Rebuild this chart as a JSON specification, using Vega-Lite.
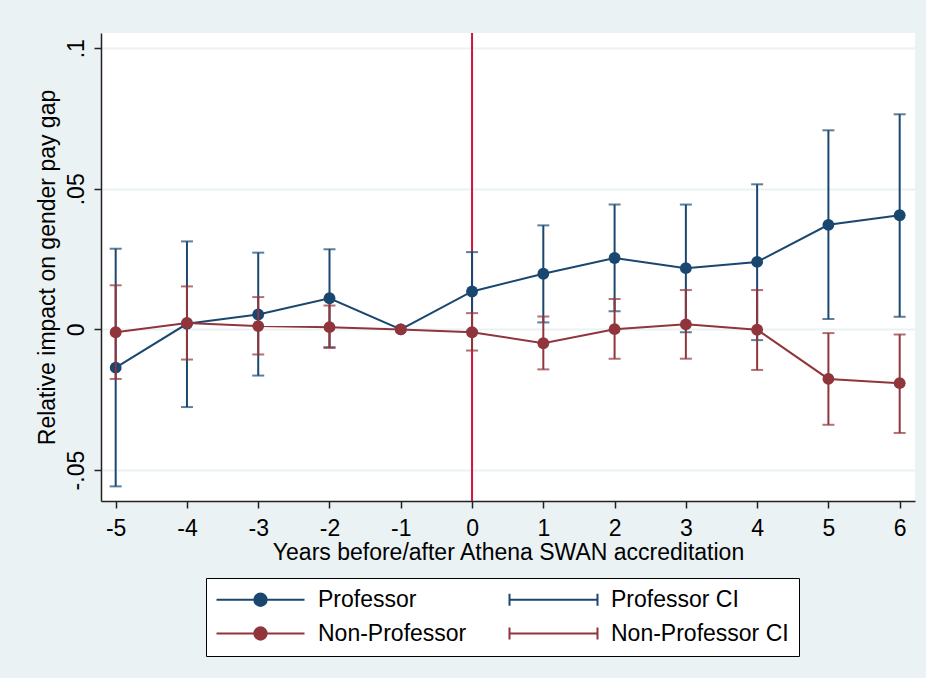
{
  "$schema": "https://vega.github.io/schema/vega-lite/v6.json",
  "width": 814,
  "height": 468,
  "autosize": {"type": "none"},
  "padding": {"left": 101, "top": 33, "right": 11, "bottom": 177},
  "background": "#EAF2F3",
  "config": {
    "font": "Liberation Sans",
    "view": {"fill": "white", "stroke": null},
    "axis": {
      "labelFont": "Liberation Sans",
      "titleFont": "Liberation Sans",
      "labelFontSize": 23,
      "titleFontSize": 23,
      "titleFontWeight": "normal",
      "labelColor": "black",
      "titleColor": "black",
      "domainColor": "#222",
      "domainWidth": 1.5,
      "tickColor": "#222",
      "tickWidth": 1.5,
      "tickSize": 7
    },
    "legend": {
      "labelFont": "Liberation Sans",
      "labelFontSize": 23,
      "labelColor": "black"
    }
  },
  "data": {
    "values": [
      {"t": -5, "series": "Professor", "ci": "Professor CI", "b": -0.0136, "lo": -0.0558, "hi": 0.0287},
      {"t": -4, "series": "Professor", "ci": "Professor CI", "b": 0.002, "lo": -0.0276, "hi": 0.0313},
      {"t": -3, "series": "Professor", "ci": "Professor CI", "b": 0.0053, "lo": -0.0164, "hi": 0.0273},
      {"t": -2, "series": "Professor", "ci": "Professor CI", "b": 0.0111, "lo": -0.0063, "hi": 0.0285},
      {"t": -1, "series": "Professor", "ci": "Professor CI", "b": 0.0, "lo": null, "hi": null},
      {"t": 0, "series": "Professor", "ci": "Professor CI", "b": 0.0135, "lo": -0.0005, "hi": 0.0275},
      {"t": 1, "series": "Professor", "ci": "Professor CI", "b": 0.0198, "lo": 0.0025, "hi": 0.037},
      {"t": 2, "series": "Professor", "ci": "Professor CI", "b": 0.0254, "lo": 0.0065, "hi": 0.0444},
      {"t": 3, "series": "Professor", "ci": "Professor CI", "b": 0.0218, "lo": -0.001, "hi": 0.0444},
      {"t": 4, "series": "Professor", "ci": "Professor CI", "b": 0.024, "lo": -0.0038, "hi": 0.0516},
      {"t": 5, "series": "Professor", "ci": "Professor CI", "b": 0.0372, "lo": 0.0037, "hi": 0.0708},
      {"t": 6, "series": "Professor", "ci": "Professor CI", "b": 0.0406, "lo": 0.0045, "hi": 0.0765},
      {"t": -5, "series": "Non-Professor", "ci": "Non-Professor CI", "b": -0.001, "lo": -0.0176, "hi": 0.0157},
      {"t": -4, "series": "Non-Professor", "ci": "Non-Professor CI", "b": 0.0023, "lo": -0.0107, "hi": 0.0153},
      {"t": -3, "series": "Non-Professor", "ci": "Non-Professor CI", "b": 0.0012, "lo": -0.0089, "hi": 0.0115},
      {"t": -2, "series": "Non-Professor", "ci": "Non-Professor CI", "b": 0.0008, "lo": -0.0066, "hi": 0.0085},
      {"t": -1, "series": "Non-Professor", "ci": "Non-Professor CI", "b": 0.0, "lo": null, "hi": null},
      {"t": 0, "series": "Non-Professor", "ci": "Non-Professor CI", "b": -0.001, "lo": -0.0075, "hi": 0.0058},
      {"t": 1, "series": "Non-Professor", "ci": "Non-Professor CI", "b": -0.0049, "lo": -0.0142, "hi": 0.0046},
      {"t": 2, "series": "Non-Professor", "ci": "Non-Professor CI", "b": 0.0001, "lo": -0.0104, "hi": 0.0108},
      {"t": 3, "series": "Non-Professor", "ci": "Non-Professor CI", "b": 0.0018, "lo": -0.0104, "hi": 0.014},
      {"t": 4, "series": "Non-Professor", "ci": "Non-Professor CI", "b": -0.0001, "lo": -0.0144, "hi": 0.014},
      {"t": 5, "series": "Non-Professor", "ci": "Non-Professor CI", "b": -0.0176, "lo": -0.0339, "hi": -0.0013},
      {"t": 6, "series": "Non-Professor", "ci": "Non-Professor CI", "b": -0.0191, "lo": -0.0368, "hi": -0.0018}
    ]
  },
  "encoding": {
    "x": {
      "field": "t",
      "type": "quantitative",
      "scale": {"domain": [-5.206, 6.215], "nice": false, "zero": false},
      "axis": {
        "title": "Years before/after Athena SWAN accreditation",
        "values": [-5, -4, -3, -2, -1, 0, 1, 2, 3, 4, 5, 6],
        "labelExpr": "'' + datum.value",
        "grid": false,
        "labelPadding": 9,
        "titlePadding": 1
      }
    }
  },
  "layer": [
    {
      "transform": [{"filter": "datum.t == 0 && datum.series == 'Professor'"}],
      "mark": {"type": "rule", "color": "#D2143C", "strokeWidth": 2},
      "encoding": {"x": {"field": "t", "type": "quantitative"}}
    },
    {
      "transform": [{"filter": "datum.series == 'Professor'"}],
      "mark": {"type": "line", "strokeWidth": 2},
      "encoding": {
        "y": {
          "field": "b",
          "type": "quantitative",
          "title": "Relative impact on gender pay gap",
          "scale": {"domain": [-0.061, 0.1054], "nice": false, "zero": false},
          "axis": {
            "values": [-0.05, 0, 0.05, 0.1],
            "labelExpr": "datum.value > 0.09 ? '.1' : datum.value > 0.04 ? '.05' : datum.value > -0.01 ? '0' : '-.05'",
            "labelAngle": -90,
            "labelAlign": "center",
            "labelBaseline": "bottom",
            "labelPadding": 6,
            "titlePadding": 6,
            "gridColor": "#EAF2F3",
            "gridWidth": 2
          }
        },
        "color": {
          "field": "series",
          "type": "nominal",
          "scale": {
            "domain": ["Professor", "Professor CI", "Non-Professor", "Non-Professor CI"],
            "range": ["#1A476F", "#1A476F", "#90353B", "#90353B"]
          },
          "legend": {
            "title": null,
            "orient": "none",
            "direction": "horizontal",
            "legendX": 105,
            "legendY": 545,
            "columns": 2,
            "columnPadding": 38,
            "rowPadding": 10,
            "padding": 10,
            "strokeColor": "black",
            "fillColor": "white",
            "symbolSize": 400,
            "symbolStrokeWidth": 2,
            "symbolOffset": 33,
            "labelOffset": 46,
            "labelLimit": 400,
            "labelBaseline": "middle",
            "encode": {
              "symbols": {
                "update": {
                  "shape": {"signal": "indexof(datum.value, 'CI') >= 0 ? 'M-4.4,-0.6V0.6M-4.4,0H4.4M4.4,-0.6V0.6' : 'M-4.4,0H4.4M-0.62,0A0.62,0.62 0 1,1 0.62,0A0.62,0.62 0 1,1 -0.62,0Z'"},
                  "fill": {"signal": "indexof(datum.value, 'Non') >= 0 ? '#90353B' : '#1A476F'"},
                  "stroke": {"signal": "indexof(datum.value, 'Non') >= 0 ? '#90353B' : '#1A476F'"},
                  "strokeWidth": {"value": 2},
                  "opacity": {"value": 1},
                  "fillOpacity": {"value": 1}
                }
              }
            }
          }
        }
      }
    },
    {
      "transform": [{"filter": "datum.series == 'Professor'"}],
      "mark": {"type": "point", "filled": true, "size": 140, "opacity": 1},
      "encoding": {
        "y": {"field": "b", "type": "quantitative", "title": "Relative impact on gender pay gap"},
        "color": {"field": "series", "type": "nominal"}
      }
    },
    {
      "transform": [{"filter": "datum.series == 'Professor' && isValid(datum.lo)"}],
      "mark": {"type": "errorbar", "ticks": true, "size": 12, "thickness": 2},
      "encoding": {
        "y": {"field": "lo", "type": "quantitative", "title": "Relative impact on gender pay gap"},
        "y2": {"field": "hi"},
        "color": {"field": "ci", "type": "nominal"}
      }
    },
    {
      "transform": [{"filter": "datum.series == 'Non-Professor'"}],
      "mark": {"type": "line", "strokeWidth": 2},
      "encoding": {
        "y": {"field": "b", "type": "quantitative", "title": "Relative impact on gender pay gap"},
        "color": {"field": "series", "type": "nominal"}
      }
    },
    {
      "transform": [{"filter": "datum.series == 'Non-Professor'"}],
      "mark": {"type": "point", "filled": true, "size": 140, "opacity": 1},
      "encoding": {
        "y": {"field": "b", "type": "quantitative", "title": "Relative impact on gender pay gap"},
        "color": {"field": "series", "type": "nominal"}
      }
    },
    {
      "transform": [{"filter": "datum.series == 'Non-Professor' && isValid(datum.lo)"}],
      "mark": {"type": "errorbar", "ticks": true, "size": 12, "thickness": 2},
      "encoding": {
        "y": {"field": "lo", "type": "quantitative", "title": "Relative impact on gender pay gap"},
        "y2": {"field": "hi"},
        "color": {"field": "ci", "type": "nominal"}
      }
    }
  ]
}
